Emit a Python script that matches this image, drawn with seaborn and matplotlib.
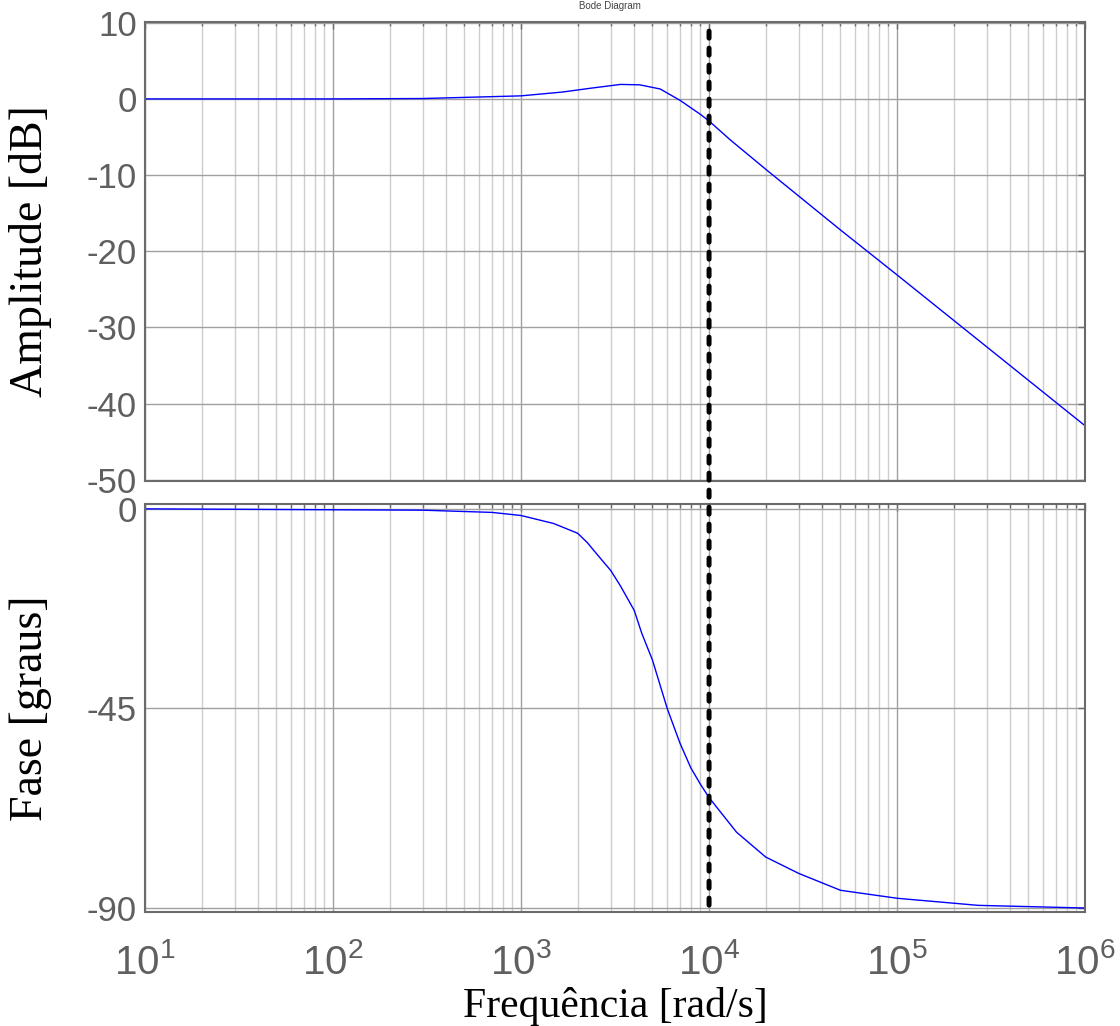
import matplotlib
matplotlib.use('Agg')
import matplotlib.pyplot as plt
import seaborn as sns
from matplotlib.patches import ConnectionPatch
from matplotlib.ticker import FixedLocator, LogLocator, NullFormatter

freq_amp = [10, 100, 300, 1000, 1660, 2340, 3380, 4270, 5500, 7020, 8960,
            10000, 13000, 20400, 50000, 100000, 1000000]
amp_db = [0, 0, 0.05, 0.4, 0.9, 1.4, 1.9, 1.85, 1.3, -0.2, -2.0,
          -2.9, -5.4, -9.4, -17.2, -23.1, -42.9]

freq_fase = [10, 300, 700, 1000, 1490, 2000, 2250, 2530, 3000, 3370, 4000, 4390,
             5000, 6000, 7000, 8000, 9000, 10000, 14000, 20000, 30000, 50000,
             100000, 270000, 1000000]
fase_graus = [0, -0.3, -0.8, -1.5, -3.3, -5.5, -7.6, -10.2, -13.9, -17.3, -22.9, -28.1,
              -34.1, -45.1, -52.8, -58.4, -62.1, -65.1, -72.9, -78.5, -82.2, -86.0,
              -87.8, -89.4, -90.0]

freq_corte = 1e4

amp_ticks = [10, 0, -10, -20, -30, -40, -50]
fase_ticks = [0, -45, -90]
freq_ticks = [1e1, 1e2, 1e3, 1e4, 1e5, 1e6]
freq_labels = [r'$10^{1}$', r'$10^{2}$', r'$10^{3}$', r'$10^{4}$', r'$10^{5}$', r'$10^{6}$']

sns.set_theme(style='white')
plt.rcParams['font.family'] = ['Liberation Sans', 'DejaVu Sans']
plt.rcParams['axes.unicode_minus'] = False
plt.rcParams['mathtext.fontset'] = 'custom'
plt.rcParams['mathtext.rm'] = 'Liberation Sans'
plt.rcParams['mathtext.it'] = 'Liberation Sans:italic'

GRIS = '#6b6b6b'

fig = plt.figure(figsize=(11.2, 10.26), dpi=100)
ax1 = fig.add_axes([0.1295, 0.5312, 0.8393, 0.4474])
ax2 = fig.add_axes([0.1295, 0.1111, 0.8393, 0.3977], sharex=ax1)

sns.lineplot(x=freq_amp, y=amp_db, ax=ax1, color='#0000ff', lw=1.0)
sns.lineplot(x=freq_fase, y=fase_graus, ax=ax2, color='#0000ff', lw=1.0)

for ax in (ax1, ax2):
    ax.set_xscale('log')
    ax.set_xlim(10, 1e6)
    ax.xaxis.set_major_locator(FixedLocator(freq_ticks))
    ax.xaxis.set_minor_locator(LogLocator(base=10, subs=range(2, 10)))
    ax.xaxis.set_minor_formatter(NullFormatter())
    ax.grid(True, which='major', color='#a0a0a0', lw=1.0)
    ax.grid(True, which='minor', axis='x', color='#cdcdcd', lw=1.0)
    ax.tick_params(which='both', direction='in', top=True, right=True,
                   color=GRIS, labelcolor='#5f5f5f', labelsize=25)
    ax.tick_params(which='major', length=5, width=1)
    ax.tick_params(which='minor', length=3, width=1)
    ax.tick_params(axis='y', pad=6)
    for s in ax.spines.values():
        s.set_color(GRIS)
        s.set_linewidth(1.5)

ax1.set_ylim(-50.15, 10.1)
ax1.set_yticks(amp_ticks)
ax1.tick_params(axis='x', labelbottom=False)

ax2.set_ylim(-90.9, 1.1)
ax2.set_yticks(fase_ticks)
ax2.set_xticks(freq_ticks)
ax2.set_xticklabels(freq_labels)
ax2.tick_params(axis='x', pad=22, labelsize=29)

ax1.set_ylabel('Amplitude [dB]', family='Liberation Serif', fontsize=33, color='black')
ax2.set_ylabel('Fase [graus]', family='Liberation Serif', fontsize=33, color='black')
ax2.set_xlabel('Frequência [rad/s]', family='Liberation Serif', fontsize=30, color='black')
ax1.yaxis.set_label_coords(-0.099, 0.5)
ax2.yaxis.set_label_coords(-0.099, 0.5)
ax2.xaxis.set_label_coords(0.5, -0.185)

# ligne de coupure en pointillés sur les deux graphes
ligne = ConnectionPatch(xyA=(freq_corte, 0.98), coordsA=ax1.get_xaxis_transform(),
                        xyB=(freq_corte, 0), coordsB=ax2.get_xaxis_transform(),
                        color='black', lw=3.6, linestyle=(0, (1.4, 2.0)),
                        capstyle='round', zorder=5)
fig.add_artist(ligne)

fig.text(0.545, 0.999, 'Bode Diagram', fontsize=7, ha='center', va='top', color='#444444')

fig.savefig('out.png', dpi=100)
